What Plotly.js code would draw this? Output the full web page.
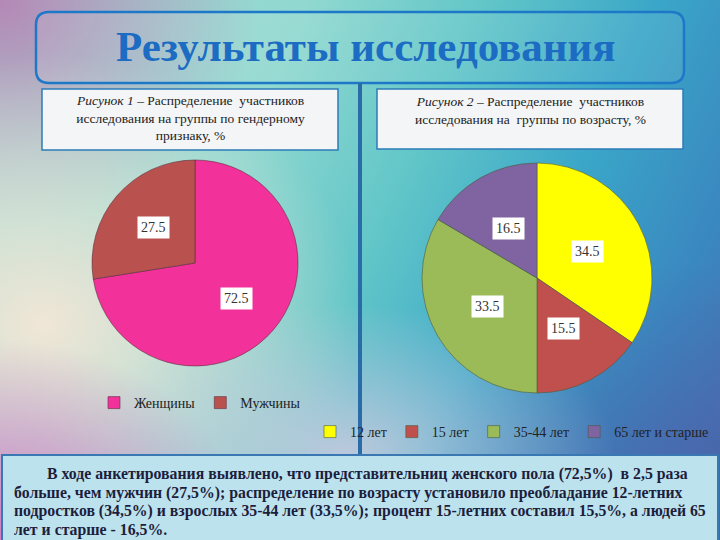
<!DOCTYPE html>
<html>
<head>
<meta charset="utf-8">
<script src="https://cdn.plot.ly/plotly-3.0.1.min.js"></script>
<style>
html,body{margin:0;padding:0;}
body{width:720px;height:540px;overflow:hidden;
background:
 radial-gradient(ellipse 250px 200px at 0% 100%, rgba(212,118,196,0.95) 0%, rgba(212,118,196,0) 100%),
 radial-gradient(ellipse 270px 150px at 48% 84%, rgba(206,204,224,0.85) 0%, rgba(206,204,224,0) 100%),
 radial-gradient(ellipse 320px 270px at 6% 60%, rgba(240,230,214,1) 0%, rgba(240,230,214,0) 100%),
 radial-gradient(ellipse 260px 230px at 0% 0%, rgba(180,136,182,1) 0%, rgba(180,136,182,0) 100%),
 radial-gradient(ellipse 320px 280px at 100% 100%, rgba(76,96,168,0.9) 0%, rgba(76,96,168,0) 100%),
 linear-gradient(115deg, #a8dcd4 0%, #90d8d0 32%, #62c6c8 50%, #3aa6c8 68%, #3a88c0 84%, #4a6cae 100%);
}
#chart{width:720px;height:540px;}
</style>
</head>
<body>
<div id="chart"></div>
<script>
// ---- data ----
const genderLabels = ['Женщины', 'Мужчины'];
const genderValues = [72.5, 27.5];
const genderColors = ['#F2319A', '#B9524F'];

const ageLabels = ['12 лет', '15 лет', '35-44 лет', '65 лет и старше'];
const ageValues = [34.5, 15.5, 33.5, 16.5];
const ageColors = ['#FFFF00', '#C0504D', '#9BBB59', '#8064A2'];

const titleText = 'Результаты исследования';
const caption1 = '<i>Рисунок 1</i> – Распределение  участников<br>исследования на группы по гендерному<br>признаку, %';
const caption2 = '<i>Рисунок 2</i> – Распределение  участников<br>исследования на  группы по возрасту, %';
const summaryLines = [
  'В ходе анкетирования выявлено, что представительниц женского пола (72,5%)  в 2,5 раза',
  'больше, чем мужчин (27,5%); распределение по возрасту установило преобладание 12-летних',
  'подростков (34,5%) и взрослых 35-44 лет (33,5%); процент 15-летних составил 15,5%, а людей 65',
  'лет и старше - 16,5%.'
];

// ---- layout helpers (pixel -> paper) ----
const W = 720, H = 540;
const px = x => x / W;
const py = y => 1 - y / H;

function roundRect(x0, y0, x1, y1, r) {
  const p = (x, y) => px(x) + ',' + py(y);
  return 'M' + p(x0 + r, y0) + ' L' + p(x1 - r, y0) + ' Q' + p(x1, y0) + ' ' + p(x1, y0 + r) +
    ' L' + p(x1, y1 - r) + ' Q' + p(x1, y1) + ' ' + p(x1 - r, y1) +
    ' L' + p(x0 + r, y1) + ' Q' + p(x0, y1) + ' ' + p(x0, y1 - r) +
    ' L' + p(x0, y0 + r) + ' Q' + p(x0, y0) + ' ' + p(x0 + r, y0) + ' Z';
}

const serif = 'Liberation Serif';

// pie geometry
const pie1 = {cx: 195, cy: 263, r: 103};
const pie2 = {cx: 537, cy: 278, r: 115};

function sliceLabels(values, pie, frac) {
  const total = values.reduce((a, b) => a + b, 0);
  let cum = 0;
  return values.map(v => {
    const mid = (cum + v / 2) / total;
    cum += v;
    const a = mid * 2 * Math.PI;
    const x = pie.cx + frac * pie.r * Math.sin(a);
    const y = pie.cy - frac * pie.r * Math.cos(a);
    return {
      x: px(x), y: py(y), xref: 'paper', yref: 'paper', xanchor: 'center', yanchor: 'middle',
      showarrow: false, text: String(v), bgcolor: '#ffffff', borderpad: 3,
      font: {family: serif, size: 14, color: '#333333'}
    };
  });
}

const traces = [
  {
    type: 'pie', labels: genderLabels, values: genderValues,
    marker: {colors: genderColors, line: {color: '#5a3040', width: 0.6}},
    sort: false, direction: 'clockwise', rotation: 0,
    textinfo: 'none', hoverinfo: 'label+value',
    domain: {x: [px(pie1.cx - pie1.r), px(pie1.cx + pie1.r)], y: [py(pie1.cy + pie1.r), py(pie1.cy - pie1.r)]},
    legend: 'legend'
  },
  {
    type: 'pie', labels: ageLabels, values: ageValues,
    marker: {colors: ageColors, line: {color: '#4a5a40', width: 0.6}},
    sort: false, direction: 'clockwise', rotation: 0,
    textinfo: 'none', hoverinfo: 'label+value',
    domain: {x: [px(pie2.cx - pie2.r), px(pie2.cx + pie2.r)], y: [py(pie2.cy + pie2.r), py(pie2.cy - pie2.r)]},
    legend: 'legend2'
  }
];

const shapes = [
  {type: 'path', xref: 'paper', yref: 'paper', path: roundRect(36, 12, 684, 83, 13),
   fillcolor: 'rgba(255,255,255,0.08)', line: {color: '#1E78C8', width: 2.5}, layer: 'below'},
  {type: 'rect', xref: 'paper', yref: 'paper', x0: px(358), x1: px(362), y0: py(455), y1: py(83),
   fillcolor: '#2A6CA8', line: {width: 0}, layer: 'below'},
  {type: 'rect', xref: 'paper', yref: 'paper', x0: px(42), x1: px(338), y0: py(150), y1: py(89),
   fillcolor: '#F3F5F7', line: {color: '#2C7CB8', width: 1.5}, layer: 'below'},
  {type: 'rect', xref: 'paper', yref: 'paper', x0: px(377), x1: px(683), y0: py(149), y1: py(89),
   fillcolor: '#F3F5F7', line: {color: '#2C7CB8', width: 1.5}, layer: 'below'},
  {type: 'rect', xref: 'paper', yref: 'paper', x0: px(2), x1: px(718), y0: py(542), y1: py(455),
   fillcolor: '#BCE2EE', line: {color: '#3A78B4', width: 2}, layer: 'below'}
];

const annotations = [
  {x: px(366), y: py(47), xref: 'paper', yref: 'paper', xanchor: 'center', yanchor: 'middle', showarrow: false,
   text: '<b>' + titleText + '</b>', font: {family: serif, size: 43, color: '#1B6CC2'}},
  {x: px(190), y: py(118), xref: 'paper', yref: 'paper', xanchor: 'center', yanchor: 'middle', showarrow: false,
   text: caption1, align: 'center', font: {family: serif, size: 13.5, color: '#222222'}},
  {x: px(530), y: py(110), xref: 'paper', yref: 'paper', xanchor: 'center', yanchor: 'middle', showarrow: false,
   text: caption2, align: 'center', font: {family: serif, size: 13.5, color: '#222222'}}
];

const lineX = [45, 12, 12, 12];
const lineY = [474, 493, 511, 530];
summaryLines.forEach((t, i) => {
  annotations.push({x: px(lineX[i]), y: py(lineY[i]), xref: 'paper', yref: 'paper', xanchor: 'left', yanchor: 'middle',
    showarrow: false, text: '<b>' + t + '</b>', font: {family: serif, size: 15.8, color: '#1C1E3C'}});
});

annotations.push(...sliceLabels(genderValues, pie1, 0.53));
annotations.push(...sliceLabels(ageValues, pie2, 0.5));

const layout = {
  width: W, height: H,
  margin: {l: 0, r: 0, t: 0, b: 0, autoexpand: false},
  paper_bgcolor: 'rgba(0,0,0,0)', plot_bgcolor: 'rgba(0,0,0,0)',
  showlegend: true,
  legend: {orientation: 'h', x: px(200), xanchor: 'center', y: py(403), yanchor: 'middle',
    bgcolor: 'rgba(0,0,0,0)', font: {family: serif, size: 14, color: '#222222'}, itemwidth: 30},
  legend2: {orientation: 'h', x: px(714), xanchor: 'right', y: py(432), yanchor: 'middle',
    bgcolor: 'rgba(0,0,0,0)', font: {family: serif, size: 14, color: '#222222'}, itemwidth: 30},
  shapes: shapes,
  annotations: annotations
};

Plotly.newPlot('chart', traces, layout, {displayModeBar: false, staticPlot: true});
</script>
</body>
</html>
